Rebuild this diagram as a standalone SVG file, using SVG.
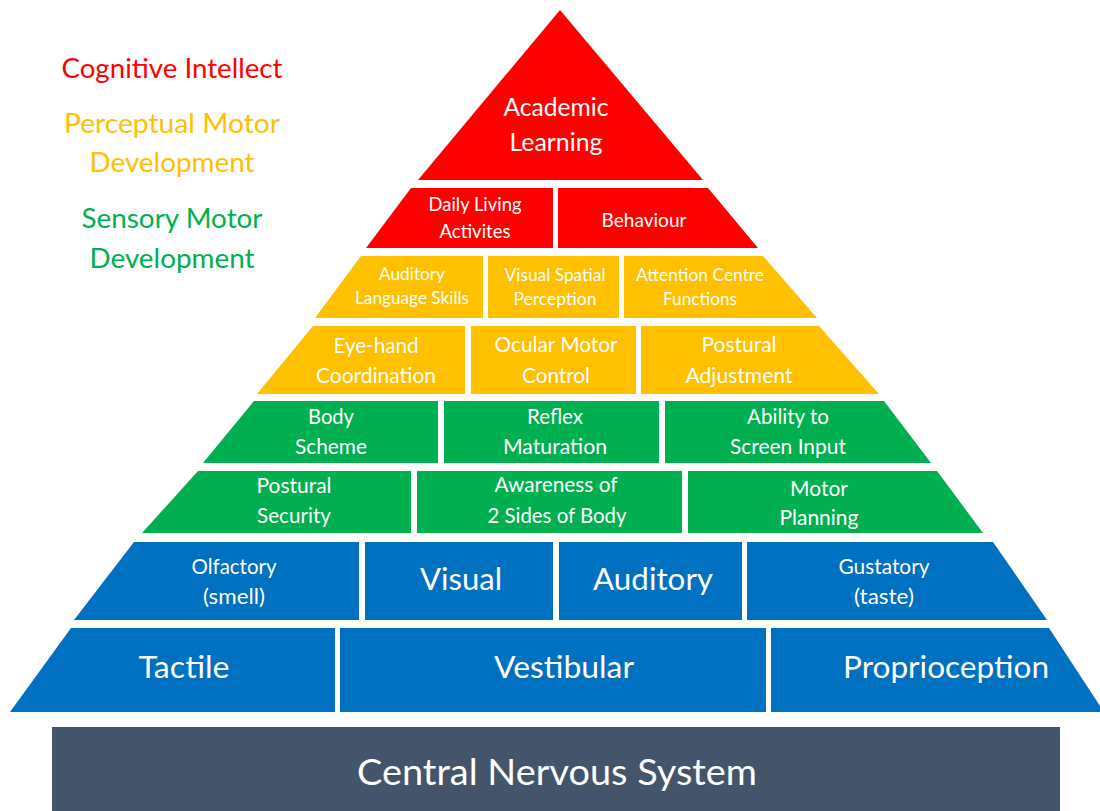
<svg xmlns="http://www.w3.org/2000/svg" width="1100" height="811" viewBox="0 0 1100 811">
<style>
.red{fill:#FF0000}.yel{fill:#FFC000}.grn{fill:#00B050}.blu{fill:#0070C0}.cns{fill:#44546A}
text{font-family:Lato,"Liberation Sans",sans-serif;text-anchor:middle}
.w{fill:#FFFFFF}
.lg{font-size:27.3px}
.t1{font-size:24.3px}
.t2{font-size:18.7px}
.t3{font-size:17px}
.t4{font-size:20.5px}
.t5{font-size:31px}
.t6{font-size:37.3px}
</style>
<rect width="1100" height="811" fill="#FFFFFF"/>

<g id="legend">
<text class="lg" x="172" y="78" fill="#FF0000" textLength="221" lengthAdjust="spacingAndGlyphs">Cognitive Intellect</text>
<text class="lg" x="172" y="133" fill="#FFC000" textLength="216" lengthAdjust="spacingAndGlyphs">Perceptual Motor</text>
<text class="lg" x="172" y="172" fill="#FFC000" textLength="165" lengthAdjust="spacingAndGlyphs">Development</text>
<text class="lg" x="172" y="228" fill="#00B050" textLength="181" lengthAdjust="spacingAndGlyphs">Sensory Motor</text>
<text class="lg" x="172" y="268" fill="#00B050" textLength="165" lengthAdjust="spacingAndGlyphs">Development</text>
</g>

<g id="academic-learning">
<polygon class="red" points="560,10 703,180 418,180"/>
<text class="w t1" x="556" y="116" textLength="105" lengthAdjust="spacingAndGlyphs">Academic</text>
<text class="w t1" x="556" y="151" textLength="93" lengthAdjust="spacingAndGlyphs">Learning</text>
</g>

<g id="daily-living">
<polygon class="red" points="411,188 553,188 553,248 366,248"/>
<text class="w t2" x="475" y="211" textLength="93" lengthAdjust="spacingAndGlyphs">Daily Living</text>
<text class="w t2" x="475" y="238" textLength="71" lengthAdjust="spacingAndGlyphs">Activites</text>
</g>
<g id="behaviour">
<polygon class="red" points="558,188 708,188 758,248 558,248"/>
<text class="w t2" x="644" y="227" textLength="85" lengthAdjust="spacingAndGlyphs">Behaviour</text>
</g>

<g id="auditory-language">
<polygon class="yel" points="361,256 483,256 483,318 315,318"/>
<text class="w t3" x="412" y="280" textLength="66" lengthAdjust="spacingAndGlyphs">Auditory</text>
<text class="w t3" x="412" y="304" textLength="114" lengthAdjust="spacingAndGlyphs">Language Skills</text>
</g>
<g id="visual-spatial">
<polygon class="yel" points="488,256 619,256 619,318 488,318"/>
<text class="w t3" x="555" y="281" textLength="101" lengthAdjust="spacingAndGlyphs">Visual Spatial</text>
<text class="w t3" x="555" y="305" textLength="83" lengthAdjust="spacingAndGlyphs">Perception</text>
</g>
<g id="attention-centre">
<polygon class="yel" points="624,256 763,256 817,318 624,318"/>
<text class="w t3" x="700" y="281" textLength="128" lengthAdjust="spacingAndGlyphs">Attention Centre</text>
<text class="w t3" x="700" y="305" textLength="74" lengthAdjust="spacingAndGlyphs">Functions</text>
</g>

<g id="eye-hand">
<polygon class="yel" points="313,326 465,326 465,394 257,394"/>
<text class="w t4" x="376" y="353" textLength="85" lengthAdjust="spacingAndGlyphs">Eye-hand</text>
<text class="w t4" x="376" y="383" textLength="120" lengthAdjust="spacingAndGlyphs">Coordination</text>
</g>
<g id="ocular-motor">
<polygon class="yel" points="471,326 636,326 636,394 471,394"/>
<text class="w t4" x="556" y="352" textLength="123" lengthAdjust="spacingAndGlyphs">Ocular Motor</text>
<text class="w t4" x="556" y="383" textLength="68" lengthAdjust="spacingAndGlyphs">Control</text>
</g>
<g id="postural-adjustment">
<polygon class="yel" points="641,326 819,326 879,394 641,394"/>
<text class="w t4" x="739" y="352" textLength="75" lengthAdjust="spacingAndGlyphs">Postural</text>
<text class="w t4" x="739" y="383" textLength="107" lengthAdjust="spacingAndGlyphs">Adjustment</text>
</g>

<g id="body-scheme">
<polygon class="grn" points="254,401 438,401 438,463 203,463"/>
<text class="w t4" x="331" y="424" textLength="46" lengthAdjust="spacingAndGlyphs">Body</text>
<text class="w t4" x="331" y="454" textLength="72" lengthAdjust="spacingAndGlyphs">Scheme</text>
</g>
<g id="reflex-maturation">
<polygon class="grn" points="444,401 659,401 659,463 444,463"/>
<text class="w t4" x="555" y="424" textLength="56" lengthAdjust="spacingAndGlyphs">Reflex</text>
<text class="w t4" x="555" y="454" textLength="104" lengthAdjust="spacingAndGlyphs">Maturation</text>
</g>
<g id="screen-input">
<polygon class="grn" points="665,401 884,401 931,463 665,463"/>
<text class="w t4" x="788" y="424" textLength="82" lengthAdjust="spacingAndGlyphs">Ability to</text>
<text class="w t4" x="788" y="454" textLength="116" lengthAdjust="spacingAndGlyphs">Screen Input</text>
</g>

<g id="postural-security">
<polygon class="grn" points="198,471 411,471 411,533 142,533"/>
<text class="w t4" x="294" y="493" textLength="75" lengthAdjust="spacingAndGlyphs">Postural</text>
<text class="w t4" x="294" y="523" textLength="74" lengthAdjust="spacingAndGlyphs">Security</text>
</g>
<g id="two-sides">
<polygon class="grn" points="417,471 682,471 682,533 417,533"/>
<text class="w t4" x="556" y="492" textLength="123" lengthAdjust="spacingAndGlyphs">Awareness of</text>
<text class="w t4" x="557" y="523" textLength="139" lengthAdjust="spacingAndGlyphs">2 Sides of Body</text>
</g>
<g id="motor-planning">
<polygon class="grn" points="688,471 937,471 983,533 688,533"/>
<text class="w t4" x="819" y="496" textLength="58" lengthAdjust="spacingAndGlyphs">Motor</text>
<text class="w t4" x="819" y="525" textLength="79" lengthAdjust="spacingAndGlyphs">Planning</text>
</g>

<g id="olfactory">
<polygon class="blu" points="134,542 359,542 359,620 74,620"/>
<text class="w t4" x="234" y="574" textLength="85" lengthAdjust="spacingAndGlyphs">Olfactory</text>
<text class="w t4" x="234" y="604" textLength="62" lengthAdjust="spacingAndGlyphs">(smell)</text>
</g>
<g id="visual">
<polygon class="blu" points="365,542 553,542 553,620 365,620"/>
<text class="w t5" x="461" y="590" textLength="82" lengthAdjust="spacingAndGlyphs">Visual</text>
</g>
<g id="auditory">
<polygon class="blu" points="559,542 742,542 742,620 559,620"/>
<text class="w t5" x="653" y="590" textLength="120" lengthAdjust="spacingAndGlyphs">Auditory</text>
</g>
<g id="gustatory">
<polygon class="blu" points="747,542 993,542 1047,620 747,620"/>
<text class="w t4" x="884" y="574" textLength="91" lengthAdjust="spacingAndGlyphs">Gustatory</text>
<text class="w t4" x="884" y="604" textLength="60" lengthAdjust="spacingAndGlyphs">(taste)</text>
</g>

<g id="tactile">
<polygon class="blu" points="71,628 335,628 335,712 10,712"/>
<text class="w t5" x="184" y="678" textLength="91" lengthAdjust="spacingAndGlyphs">Tactile</text>
</g>
<g id="vestibular">
<polygon class="blu" points="340,628 766,628 766,712 340,712"/>
<text class="w t5" x="564" y="678" textLength="140" lengthAdjust="spacingAndGlyphs">Vestibular</text>
</g>
<g id="proprioception">
<polygon class="blu" points="771,628 1049,628 1104,712 771,712"/>
<text class="w t5" x="946" y="678" textLength="206" lengthAdjust="spacingAndGlyphs">Proprioception</text>
</g>

<g id="central-nervous-system">
<rect class="cns" x="52" y="727" width="1008" height="84"/>
<text class="w t6" x="557" y="785" textLength="400" lengthAdjust="spacingAndGlyphs">Central Nervous System</text>
</g>
</svg>
